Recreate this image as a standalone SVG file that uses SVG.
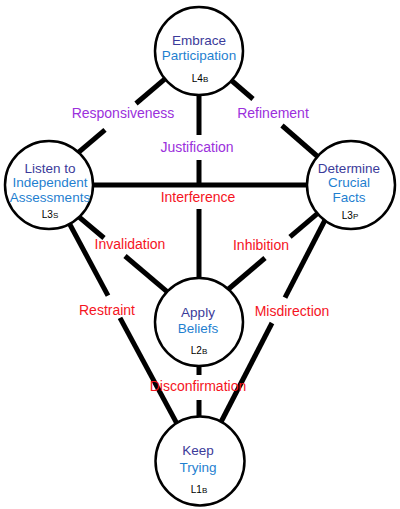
<svg xmlns="http://www.w3.org/2000/svg" width="400" height="509" viewBox="0 0 400 509">
<style>
.c{stroke:#000;stroke-width:5;stroke-linecap:butt;fill:none}
.n{fill:#fff;stroke:#000;stroke-width:2.5}
.t{font-family:"Liberation Sans",Arial,sans-serif;font-size:13.5px;text-anchor:middle}
.d{fill:#3b3b9a}
.b{fill:#1f7fd0}
.l{font-family:"Liberation Sans",Arial,sans-serif;font-size:10px;text-anchor:middle;fill:#000}
.p{font-family:"Liberation Sans",Arial,sans-serif;font-size:14px;text-anchor:middle;fill:#9b30dc}
.r{font-family:"Liberation Sans",Arial,sans-serif;font-size:14px;text-anchor:middle;fill:#f5141e}
</style>
<rect width="400" height="509" fill="#fff"/>
<g id="connectors">
<line class="c" x1="190" y1="57.6" x2="136" y2="103.5"/>
<line class="c" x1="105" y1="129.8" x2="60" y2="168"/>
<line class="c" x1="210" y1="62" x2="253" y2="99"/>
<line class="c" x1="282" y1="125.5" x2="340" y2="176"/>
<line class="c" x1="199" y1="51" x2="199" y2="135"/>
<line class="c" x1="199" y1="160" x2="199" y2="185"/>
<line class="c" x1="199" y1="209" x2="199" y2="322"/>
<line class="c" x1="49" y1="185" x2="351" y2="185"/>
<line class="c" x1="60" y1="201" x2="104" y2="238"/>
<line class="c" x1="125" y1="256" x2="180" y2="302.7"/>
<line class="c" x1="340" y1="194.3" x2="290" y2="236.9"/>
<line class="c" x1="265" y1="258" x2="218" y2="298"/>
<line class="c" x1="60" y1="206" x2="108" y2="295.6"/>
<line class="c" x1="120" y1="317.9" x2="185" y2="438.6"/>
<line class="c" x1="340" y1="191" x2="285" y2="297.7"/>
<line class="c" x1="272" y1="323" x2="212" y2="439.5"/>
<line class="c" x1="199" y1="322" x2="199" y2="375"/>
<line class="c" x1="199" y1="400" x2="199" y2="461"/>
<text class="p" x="123" y="118">Responsiveness</text>
<text class="p" x="273" y="118">Refinement</text>
<text class="p" x="197" y="152">Justification</text>
<text class="r" x="198" y="202">Interference</text>
<text class="r" x="130" y="249">Invalidation</text>
<text class="r" x="261" y="250">Inhibition</text>
<text class="r" x="107" y="315">Restraint</text>
<text class="r" x="292" y="316">Misdirection</text>
<text class="r" x="198" y="391">Disconfirmation</text>
</g>
<g id="embrace">
<circle class="n" cx="199" cy="51" r="44"/>
<text class="t d" x="199" y="45">Embrace</text>
<text class="t b" x="199" y="60">Participation</text>
<text class="l" x="200" y="82">L4<tspan font-size="8">B</tspan></text>
</g>
<g id="listen">
<circle class="n" cx="49" cy="185" r="44"/>
<text class="t d" x="50" y="173">Listen to</text>
<text class="t b" x="50" y="187">Independent</text>
<text class="t b" x="50" y="202">Assessments</text>
<text class="l" x="50" y="218">L3<tspan font-size="8">S</tspan></text>
</g>
<g id="determine">
<circle class="n" cx="351" cy="185" r="44"/>
<text class="t d" x="349" y="173">Determine</text>
<text class="t b" x="349" y="187">Crucial</text>
<text class="t b" x="349" y="202">Facts</text>
<text class="l" x="350" y="219">L3<tspan font-size="8">P</tspan></text>
</g>
<g id="apply">
<circle class="n" cx="199" cy="322" r="44"/>
<text class="t d" x="198" y="317">Apply</text>
<text class="t b" x="198" y="333">Beliefs</text>
<text class="l" x="199" y="354">L2<tspan font-size="8">B</tspan></text>
</g>
<g id="keep">
<circle class="n" cx="200" cy="461" r="44.5"/>
<text class="t d" x="198" y="455">Keep</text>
<text class="t b" x="198" y="472">Trying</text>
<text class="l" x="199" y="493">L1<tspan font-size="8">B</tspan></text>
</g>
</svg>
